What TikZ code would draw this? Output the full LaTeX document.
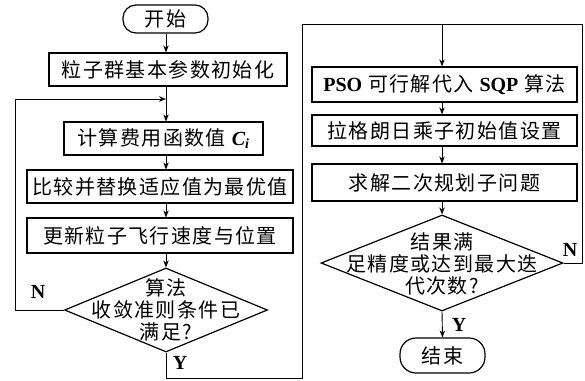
\documentclass[tikz,border=0pt]{standalone}
\usepackage{fontspec}
\setmainfont{Liberation Serif}
\newfontfamily\cjk[LetterSpace=7]{Noto Sans CJK SC}
\newfontfamily\latin{Liberation Serif}
\usetikzlibrary{arrows.meta,shapes.geometric}
\begin{document}
\begin{tikzpicture}[x=1pt,y=-1pt,
  every node/.style={inner sep=0pt},
  txt/.style={font=\cjk\fontsize{20}{22}\selectfont, align=center},
  box/.style={draw, line width=1.2pt, txt},
  term/.style={draw, line width=1.2pt, rounded corners=13pt, txt},
  dia/.style={draw, diamond, line width=1.2pt, inner sep=0pt},
  lab/.style={font=\latin\bfseries\fontsize{20}{20}\selectfont},
  conn/.style={line width=0.9pt},
  arr/.style={conn, -{Stealth[length=7pt,width=5.5pt]}}]
\useasboundingbox (0,0) rectangle (585,380);
\fill[white] (0,0) rectangle (585,380);
% left column
\node[term, minimum width=85pt, minimum height=28pt] (start) at (165.5,19) {开始};
\node[box, minimum width=238pt, minimum height=33pt] (b1) at (168,69.5) {粒子群基本参数初始化};
\node[box, minimum width=199pt, minimum height=33pt] (b2) at (163.5,138.5) {计算费用函数值 {\latin\bfseries\itshape C\textsubscript{i}}};
\node[box, minimum width=266pt, minimum height=33pt] (b3) at (160,186.5) {比较并替换适应值为最优值};
\node[box, minimum width=266pt, minimum height=35pt] (b4) at (160,235.5) {更新粒子飞行速度与位置};
\node[dia, minimum width=203pt, minimum height=84pt] (d1) at (166,310) {};
\node[txt] (d1t) at (166,310) {算法\\收敛准则条件已\\满足?};
% right column
\node[box, minimum width=265pt, minimum height=35pt] (b5) at (444.5,84.5) {{\latin\bfseries PSO} 可行解代入 {\latin\bfseries SQP} 算法};
\node[box, minimum width=265pt, minimum height=31pt] (b6) at (444.5,130.5) {拉格朗日乘子初始值设置};
\node[box, minimum width=265pt, minimum height=37pt] (b7) at (444.5,182.5) {求解二次规划子问题};
\node[dia, minimum width=242pt, minimum height=96pt] (d2) at (442,263) {};
\node[txt] (d2t) at (442,264) {结果满\\足精度或达到最大迭\\代次数?};
\node[term, minimum width=85pt, minimum height=35pt, rounded corners=16pt] (end) at (442.5,355.5) {结束};
% coordinates
\coordinate (cl) at (166,0);
\coordinate (cr) at (442,0);
\coordinate (j1) at (166,99);
\coordinate (lt) at (15,99);
\coordinate (lb) at (15,310);
\coordinate (yb) at (166,378);
\coordinate (yc) at (302,378);
\coordinate (tl) at (302,24);
\coordinate (tj) at (442,24);
\coordinate (tr) at (582,24);
\coordinate (nr) at (582,263);
% left connectors
\draw[arr] (start.south -| cl) -- (b1.north -| cl);
\draw[conn] (b1.south -| cl) -- (j1);
\draw[arr] (j1) -- (b2.north -| cl);
\draw[arr] (b2.south -| cl) -- (b3.north -| cl);
\draw[arr] (b3.south -| cl) -- (b4.north -| cl);
\draw[arr] (b4.south -| cl) -- (d1.north);
\draw[arr] (d1.west) -- (lb) -- (lt) -- (j1);
\draw[conn] (d1.south) -- (yb) -- (yc) -- (tl) -- (tj);
% right connectors
\draw[arr] (tj) -- (b5.north -| cr);
\draw[arr] (b5.south -| cr) -- (b6.north -| cr);
\draw[arr] (b6.south -| cr) -- (b7.north -| cr);
\draw[arr] (b7.south -| cr) -- (d2.north);
\draw[conn] (d2.east) -- (nr) -- (tr) -- (tj);
\draw[arr] (d2.south) -- (end.north);
% labels
\node[lab] (n1) at (38,292) {N};
\node[lab] (y1) at (180,363) {Y};
\node[lab] (n2) at (570,250) {N};
\node[lab] (y2) at (459,325) {Y};
\end{tikzpicture}
\end{document}
